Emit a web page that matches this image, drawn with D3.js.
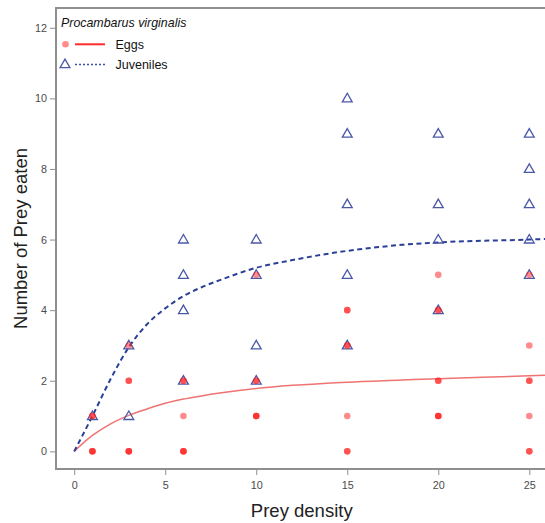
<!DOCTYPE html>
<html>
<head>
<meta charset="utf-8">
<script src="https://cdn.jsdelivr.net/npm/d3@7"></script>
<style>
  body { margin: 0; background: #fff; }
  svg { display: block; font-family: "Liberation Sans", Arial, sans-serif; }
</style>
</head>
<body>
<svg id="chart" width="545" height="523"></svg>
<script>
// observed prey eaten per replicate (eggs), repeated values overlap
const eggDensity = [1, 1, 1, 1, 1,
    3, 3, 3, 3, 3, 3,
    6, 6, 6, 6, 6, 6,
    10, 10, 10, 10, 10, 10,
    15, 15, 15, 15, 15, 15, 15,
    20, 20, 20, 20, 20, 20, 20, 20,
    25, 25, 25, 25, 25, 25, 25];
const eggEaten = [0, 0, 0, 1, 1,
    0, 0, 0, 2, 2, 3,
    0, 0, 0, 1, 2, 2,
    1, 1, 1, 2, 2, 5,
    0, 0, 1, 3, 3, 4, 4,
    1, 1, 1, 2, 2, 4, 4, 5,
    0, 0, 1, 2, 2, 3, 5];

const juvDensity = [1, 3, 3, 6, 6, 6, 6, 10, 10, 10, 10,
    15, 15, 15, 15, 15, 20, 20, 20, 20, 25, 25, 25, 25, 25];
const juvEaten = [1, 1, 3, 2, 4, 5, 6, 2, 3, 5, 6,
    3, 5, 7, 9, 10, 4, 6, 7, 9, 5, 6, 7, 8, 9];

// fitted functional response curves
const fitDensity = [0, 1, 2, 3, 4, 5, 6, 7, 8, 10, 12, 15, 18, 20, 25, 26];
const eggFit = [0, 0.45, 0.78, 1.02, 1.2, 1.36, 1.48, 1.57, 1.65, 1.78, 1.87, 1.96, 2.02, 2.06, 2.14, 2.16];
const juvFit = [0, 1, 2.05, 2.95, 3.6, 4.05, 4.4, 4.65, 4.85, 5.2, 5.42, 5.68, 5.85, 5.92, 6.0, 6.02];

const xTicks = [0, 5, 10, 15, 20, 25];
const yTicks = [0, 2, 4, 6, 8, 10, 12];

const axisGrey = '#8f8f8f',
    labelGrey = '#4a4a4a',
    eggRed = '#ff1a1a',
    juvBlue = '#4a58a8';

const svg = d3.select('#chart');

const x = d3.scaleLinear().domain([-1, 26]).range([56, 547.5]);
const y = d3.scaleLinear().domain([-0.5, 12.56]).range([469, 8]);

// box
svg.append('rect')
    .attr('x', x(-1))
    .attr('y', y(12.56))
    .attr('width', x(26) - x(-1))
    .attr('height', y(-0.5) - y(12.56))
    .attr('fill', 'none')
    .attr('stroke', axisGrey)
    .attr('stroke-width', 2);

// axes
const xAxis = svg.append('g')
    .attr('transform', 'translate(0,' + y(-0.5) + ')')
    .call(d3.axisBottom(x).tickValues(xTicks).tickSize(6).tickPadding(6));
const yAxis = svg.append('g')
    .attr('transform', 'translate(' + x(-1) + ',0)')
    .call(d3.axisLeft(y).tickValues(yTicks).tickSize(6).tickPadding(3));

[xAxis, yAxis].forEach(function(g) {
    g.select('.domain').remove();
    g.selectAll('.tick line').attr('stroke', axisGrey).attr('stroke-width', 1);
    g.selectAll('.tick text')
        .attr('fill', labelGrey)
        .style('font-size', '10.8px')
        .style('font-family', '"Liberation Sans", Arial, sans-serif');
});

svg.append('text')
    .attr('x', (x(-1) + x(26)) / 2)
    .attr('y', 517)
    .attr('text-anchor', 'middle')
    .attr('fill', '#222')
    .style('font-size', '18.5px')
    .text('Prey density');

svg.append('text')
    .attr('transform', 'translate(27,' + ((y(-0.5) + y(12.56)) / 2) + ') rotate(-90)')
    .attr('text-anchor', 'middle')
    .attr('fill', '#222')
    .style('font-size', '18.5px')
    .text('Number of Prey eaten');

// fitted curves
const line = function(values) {
    return d3.line()
        .x(function(d, i) { return x(fitDensity[i]); })
        .y(function(d) { return y(d); })
        .curve(d3.curveMonotoneX)(values);
};

svg.append('path')
    .attr('d', line(eggFit))
    .attr('fill', 'none')
    .attr('stroke', '#f07373')
    .attr('stroke-width', 1.5);

svg.append('path')
    .attr('d', line(juvFit))
    .attr('fill', 'none')
    .attr('stroke', '#2b3f98')
    .attr('stroke-width', 2)
    .attr('stroke-dasharray', '5,3.5');

// juveniles: open triangles
const triangle = d3.symbol().type(d3.symbolTriangle).size(42);

svg.append('g').selectAll('path')
    .data(juvEaten)
    .join('path')
    .attr('d', triangle)
    .attr('transform', function(d, i) { return 'translate(' + x(juvDensity[i]) + ',' + (y(d) + 0.6) + ')'; })
    .attr('fill', 'none')
    .attr('stroke', juvBlue)
    .attr('stroke-width', 1.3);

// eggs: translucent dots
svg.append('g').selectAll('circle')
    .data(eggEaten)
    .join('circle')
    .attr('cx', function(d, i) { return x(eggDensity[i]); })
    .attr('cy', function(d) { return y(d); })
    .attr('r', 3.3)
    .attr('fill', eggRed)
    .attr('fill-opacity', 0.5);

// legend
const legend = svg.append('g');

legend.append('text')
    .attr('x', 61)
    .attr('y', 27)
    .attr('fill', '#111')
    .style('font-size', '12.4px')
    .style('font-style', 'italic')
    .text('Procambarus virginalis');

legend.append('circle')
    .attr('cx', 65.5)
    .attr('cy', 44.3)
    .attr('r', 3.3)
    .attr('fill', eggRed)
    .attr('fill-opacity', 0.5);

legend.append('line')
    .attr('x1', 75).attr('x2', 105)
    .attr('y1', 44.3).attr('y2', 44.3)
    .attr('stroke', '#ff2a2a')
    .attr('stroke-width', 2);

legend.append('path')
    .attr('d', triangle)
    .attr('transform', 'translate(65,64.8)')
    .attr('fill', 'none')
    .attr('stroke', juvBlue)
    .attr('stroke-width', 1.3);

legend.append('line')
    .attr('x1', 75).attr('x2', 105)
    .attr('y1', 64.5).attr('y2', 64.5)
    .attr('stroke', '#3a4fb0')
    .attr('stroke-width', 1.6)
    .attr('stroke-dasharray', '2,2');

legend.selectAll('text.key')
    .data(['Eggs', 'Juveniles'])
    .join('text')
    .attr('class', 'key')
    .attr('x', 115.5)
    .attr('y', function(d, i) { return 48.5 + i * 20; })
    .attr('fill', '#111')
    .style('font-size', '12.5px')
    .text(function(d) { return d; });
</script>
</body>
</html>
